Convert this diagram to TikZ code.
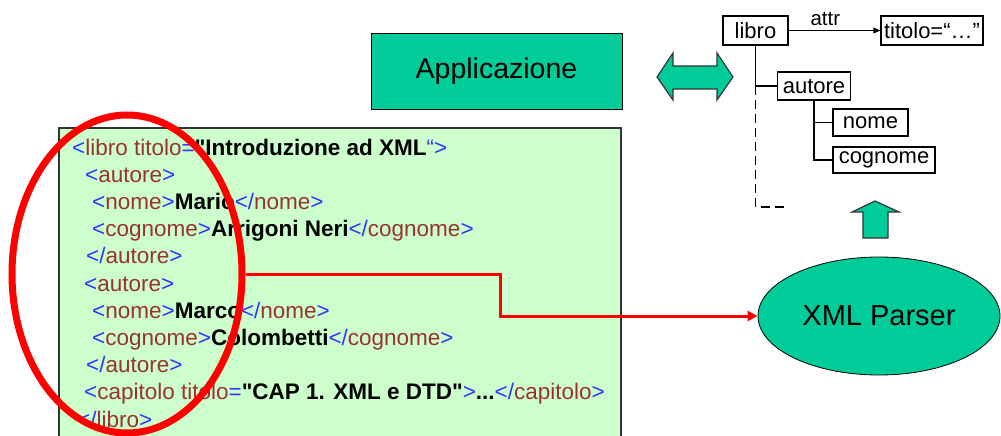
\documentclass[tikz,border=0pt]{standalone}
\usepackage{fontspec}
\setmainfont{Liberation Sans}
\usetikzlibrary{arrows.meta,shapes.geometric}
\definecolor{teal1}{HTML}{00CC99}
\definecolor{lgreen}{HTML}{CCFFCC}
\definecolor{tagblue}{HTML}{3333FF}
\definecolor{tagred}{HTML}{993333}
\definecolor{boxgray}{HTML}{333333}
\newcommand\tB[1]{\textcolor{tagblue}{#1}}
\newcommand\tR[1]{\textcolor{tagred}{#1}}
\begin{document}
\begin{tikzpicture}[x=1pt,y=-1pt,
  xmlline/.style={anchor=base west,inner sep=0pt,font=\fontsize{22.5}{27}\selectfont},
  treebox/.style={draw,line width=1.3pt,inner sep=0pt,font=\fontsize{22}{26}\selectfont},
  treeline/.style={line width=1.3pt},
  blockarrow/.style={fill=teal1,draw=black!80,line width=1.2pt,line join=miter}]
\useasboundingbox (0,0) rectangle (1001,436);
\clip (0,0) rectangle (1001,436);
% XML source box
\node[draw=boxgray,fill=lgreen,line width=2.2pt,minimum width=562,minimum height=330,inner sep=0,anchor=north west] (src) at (58,127) {};
\node[xmlline] (l1) at (72,155) {\tB{<}\tR{libro titolo}\tB{=}\textbf{\textquotedbl Introduzione ad XML}\tB{“>}};
\node[xmlline] (l2) at (85,182.2) {\tB{<}\tR{autore}\tB{>}};
\node[xmlline] (l3) at (92,209.4) {\tB{<}\tR{nome}\tB{>}\textbf{Mario}\tB{</}\tR{nome}\tB{>}};
\node[xmlline] (l4) at (92,236.6) {\tB{<}\tR{cognome}\tB{>}\textbf{Arrigoni Neri}\tB{</}\tR{cognome}\tB{>}};
\node[xmlline] (l5) at (86,263.8) {\tB{</}\tR{autore}\tB{>}};
\node[xmlline] (l6) at (84,291) {\tB{<}\tR{autore}\tB{>}};
\node[xmlline] (l7) at (92,318.2) {\tB{<}\tR{nome}\tB{>}\textbf{Marco}\tB{</}\tR{nome}\tB{>}};
\node[xmlline] (l8) at (92,345.4) {\tB{<}\tR{cognome}\tB{>}\textbf{Colombetti}\tB{</}\tR{cognome}\tB{>}};
\node[xmlline] (l9) at (86,372.6) {\tB{</}\tR{autore}\tB{>}};
\node[xmlline] (l10) at (84,399.8) {\tB{<}\tR{capitolo titolo}\tB{=}\textbf{\textquotedbl CAP 1. XML e DTD\textquotedbl}\tB{>}\textbf{...}\tB{</}\tR{capitolo}\tB{>}};
\node[xmlline] (l11) at (77,427) {\tB{</}\tR{libro}\tB{>}};
% red ellipse
\node[ellipse,draw=red,line width=7pt,minimum width=230,minimum height=318,inner sep=0] (ell) at (127,274) {};
% Applicazione
\node[draw,fill=teal1,line width=1pt,minimum width=251,minimum height=75,inner sep=0,font=\fontsize{28.5}{34}\selectfont] (app) at (496.5,71.5) {Applicazione};
% double arrow
\draw[blockarrow] (657,77) -- (673,53) -- (673,66) -- (717,66) -- (717,53) -- (733,77) -- (717,100) -- (717,89) -- (673,89) -- (673,100) -- cycle;
% XML Parser
\node[ellipse,draw,fill=teal1,line width=0.8pt,minimum width=242,minimum height=118,inner sep=0,font=\fontsize{29}{34}\selectfont] (parser) at (879,316) {XML Parser};
% up arrow
\draw[blockarrow] (875,201) -- (899,212) -- (888,212) -- (888,238) -- (863,238) -- (863,212) -- (852,212) -- cycle;
% red connector
\coordinate (bend) at (500,274);
\draw[red,line width=3pt,-{Triangle[length=10pt,width=10pt]}] (ell.east) -- (ell.east -| bend) |- (parser.west);
% tree
\node[treebox,minimum width=65,minimum height=29] (libro) at (755.5,30.5) {libro};
\node[treebox,minimum width=102,minimum height=29] (titolo) at (932,30.5) {titolo=“…”};
\node[treebox,minimum width=73,minimum height=28] (autore) at (814,86) {autore};
\node[treebox,minimum width=75,minimum height=27] (nome) at (870.5,122.5) {nome};
\node[treebox,minimum width=102,minimum height=26] (cognome) at (884,160) {cognome};
\draw[line width=0.8pt,-{Triangle[length=7pt,width=6pt]}] (libro.east) -- (titolo.west) node[pos=0.4,above=1pt,font=\fontsize{20.5}{24}\selectfont] (attrl) {attr};
\draw[treeline] (libro.south) |- (autore.west);
\coordinate (br) at (libro.south |- autore.west);
\coordinate (dend) at (788,207);
\draw[treeline,dash pattern=on 9pt off 5pt] (br) |- (dend);
\draw[treeline] (autore.south) |- (nome.west);
\draw[treeline] (autore.south) |- (cognome.west);
\end{tikzpicture}
\end{document}
